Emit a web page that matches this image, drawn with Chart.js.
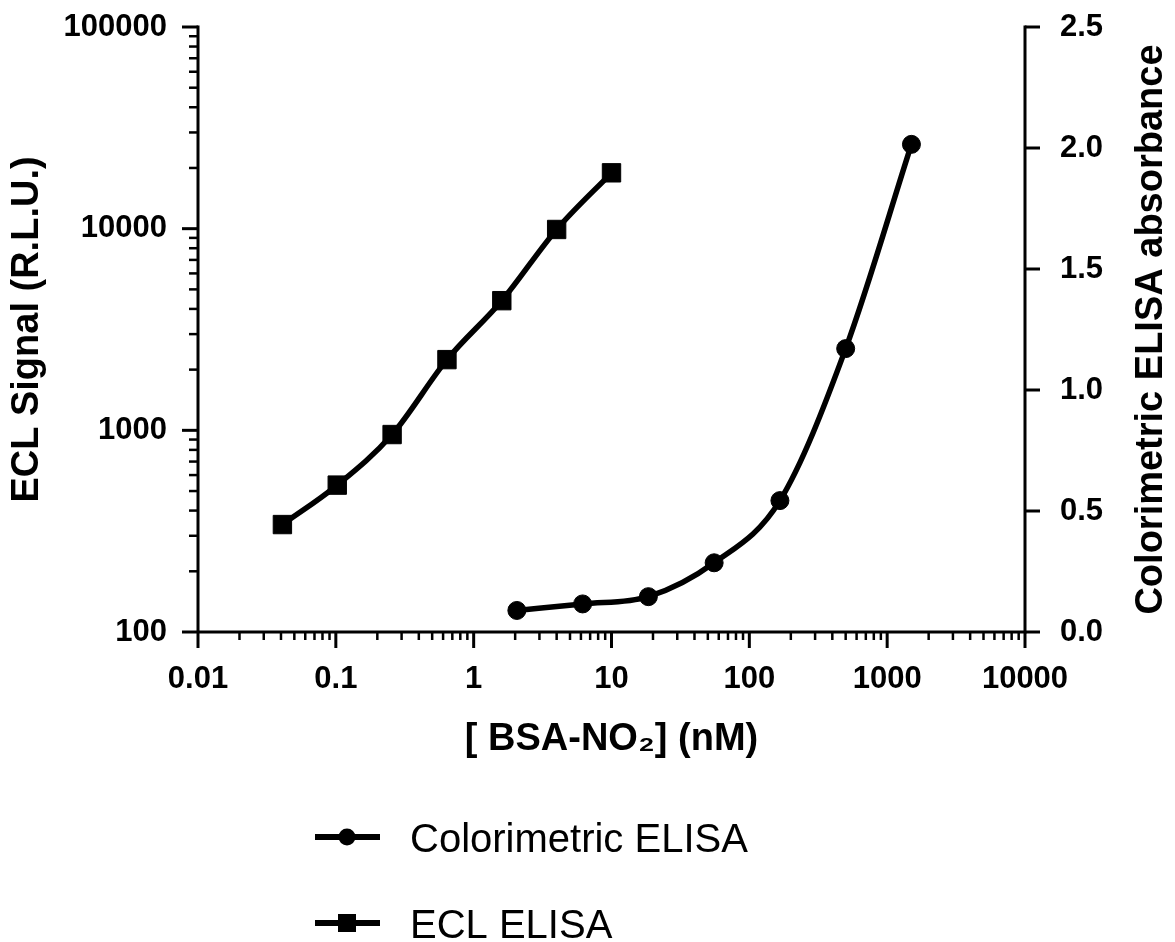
<!DOCTYPE html>
<html>
<head>
<meta charset="utf-8">
<script src="https://cdn.jsdelivr.net/npm/chart.js@4.4.1/dist/chart.umd.min.js"></script>
<style>
html,body{margin:0;padding:0;background:#fff;}
#wrap{position:relative;width:1175px;height:942px;}
</style>
</head>
<body>
<div id="wrap"><canvas id="c" width="1175" height="942"></canvas></div>
<script>
// ---- data ----
const elisaConc = [2.058, 6.173, 18.52, 55.56, 166.7, 500, 1500];
const elisaAbs = [0.089, 0.116, 0.146, 0.286, 0.543, 1.171, 2.015];
const eclConc = [0.04096, 0.1024, 0.256, 0.64, 1.6, 4, 10];
const eclSignal = [341, 535, 953, 2242, 4395, 9908, 18920];
const seriesNames = ['Colorimetric ELISA', 'ECL ELISA'];
const xMajorTicks = [0.01, 0.1, 1, 10, 100, 1000, 10000];
const xTickLabels = ['0.01', '0.1', '1', '10', '100', '1000', '10000'];
const yMajorTicks = [100, 1000, 10000, 100000];
const yTickLabels = ['100', '1000', '10000', '100000'];
const y1Ticks = [0, 0.5, 1, 1.5, 2, 2.5];
const y1TickLabels = ['0.0', '0.5', '1.0', '1.5', '2.0', '2.5'];
const minorSteps = [2, 3, 4, 5, 6, 7, 8, 9];
const xTitle = '[ BSA-NO\u2082] (nM)';
const yTitle = 'ECL Signal (R.L.U.)';
const y1Title = 'Colorimetric ELISA absorbance';

const FONT = '"Liberation Sans", Arial, Helvetica, sans-serif';

function withMinors(majors) {
  const out = [];
  majors.forEach((m, i) => {
    out.push({ value: m, major: true });
    if (i < majors.length - 1) minorSteps.forEach(s => out.push({ value: m * s, major: false }));
  });
  return out;
}
function labelFrom(values, labels) {
  return function (value) {
    const i = values.findIndex(m => Math.abs(m - value) <= Math.abs(m) * 1e-9 + 1e-12);
    return i >= 0 ? labels[i] : '';
  };
}

const plotLeft = 198, plotRight = 1025, plotTop = 27, plotBottom = 632;

const axesPlugin = {
  id: 'axesPlugin',
  beforeDatasetsDraw(chart) {
    const { ctx, chartArea: a, scales } = chart;
    ctx.save();
    ctx.strokeStyle = '#000';
    ctx.lineWidth = 3;
    ctx.beginPath();
    ctx.moveTo(a.left, a.top - 1.5); ctx.lineTo(a.left, a.bottom);
    ctx.moveTo(a.left, a.bottom); ctx.lineTo(a.right, a.bottom);
    ctx.moveTo(a.right, a.top - 1.5); ctx.lineTo(a.right, a.bottom + 1.5);
    ctx.stroke();
    scales.x.ticks.forEach(t => {
      const p = scales.x.getPixelForValue(t.value);
      const len = t.major ? 16 : 8;
      ctx.lineWidth = t.major ? 3 : 2.5;
      ctx.beginPath(); ctx.moveTo(p, a.bottom); ctx.lineTo(p, a.bottom + len); ctx.stroke();
    });
    scales.y.ticks.forEach(t => {
      const p = scales.y.getPixelForValue(t.value);
      const len = t.major ? 16 : 9;
      ctx.lineWidth = t.major ? 3 : 2.5;
      ctx.beginPath(); ctx.moveTo(a.left - len, p); ctx.lineTo(a.left, p); ctx.stroke();
    });
    scales.y1.ticks.forEach(t => {
      const p = scales.y1.getPixelForValue(t.value);
      ctx.lineWidth = 3;
      ctx.beginPath(); ctx.moveTo(a.right, p); ctx.lineTo(a.right + 15, p); ctx.stroke();
    });
    ctx.restore();
  },
  afterDraw(chart) {
    const { ctx, chartArea: a } = chart;
    ctx.save();
    ctx.fillStyle = '#000';
    ctx.font = 'bold 38px ' + FONT;
    ctx.textAlign = 'center';
    ctx.textBaseline = 'middle';
    ctx.translate(1152, (a.top + a.bottom) / 2);
    ctx.rotate(-Math.PI / 2);
    ctx.fillText(y1Title, 0, 0);
    ctx.restore();

    ctx.save();
    const rows = [837, 923];
    const ds = chart.data.datasets;
    rows.forEach((y, i) => {
      ctx.strokeStyle = '#000';
      ctx.fillStyle = '#000';
      ctx.lineWidth = 6;
      ctx.beginPath(); ctx.moveTo(315, y); ctx.lineTo(380, y); ctx.stroke();
      if (ds[i].pointStyle === 'circle') {
        ctx.beginPath(); ctx.arc(347, y, 8.5, 0, Math.PI * 2); ctx.fill();
      } else {
        ctx.fillRect(347 - 9, y - 9, 18, 18);
      }
      ctx.font = '40px ' + FONT;
      ctx.textAlign = 'left';
      ctx.textBaseline = 'alphabetic';
      ctx.fillText(ds[i].label, 410, y + 14.5);
    });
    ctx.restore();
  }
};

const tickFont = { family: FONT, size: 31, weight: 'bold' };
const titleFont = { family: FONT, size: 38, weight: 'bold' };

function noVPad(s) { s.paddingTop = 0; s.paddingBottom = 0; }

new Chart(document.getElementById('c'), {
  type: 'scatter',
  data: {
    datasets: [
      {
        label: seriesNames[0],
        data: elisaConc.map((x, i) => ({ x, y: elisaAbs[i] })),
        yAxisID: 'y1',
        showLine: true,
        cubicInterpolationMode: 'monotone',
        borderColor: '#000',
        borderWidth: 5.5,
        backgroundColor: '#000',
        pointStyle: 'circle',
        pointRadius: 9,
        pointHoverRadius: 9,
        pointBackgroundColor: '#000',
        pointBorderColor: '#000',
        pointBorderWidth: 1,
        clip: false
      },
      {
        label: seriesNames[1],
        data: eclConc.map((x, i) => ({ x, y: eclSignal[i] })),
        yAxisID: 'y',
        showLine: true,
        cubicInterpolationMode: 'monotone',
        borderColor: '#000',
        borderWidth: 5.5,
        backgroundColor: '#000',
        pointStyle: 'rect',
        pointRadius: 13,
        pointHoverRadius: 13,
        pointBackgroundColor: '#000',
        pointBorderColor: '#000',
        pointBorderWidth: 1,
        clip: false
      }
    ]
  },
  options: {
    responsive: false,
    animation: false,
    devicePixelRatio: 1,
    layout: { padding: { top: plotTop, left: 0, right: 0, bottom: 0 } },
    plugins: { legend: { display: false }, tooltip: { enabled: false } },
    scales: {
      x: {
        type: 'logarithmic',
        position: 'bottom',
        min: 0.01, max: 10000,
        afterBuildTicks: s => { s.ticks = withMinors(xMajorTicks); },
        afterFit: s => { s.height = 942 - plotBottom; s.paddingLeft = 0; s.paddingRight = 0; },
        grid: { display: false },
        border: { display: false },
        ticks: {
          autoSkip: false, maxRotation: 0, minRotation: 0,
          padding: 21, color: '#000', font: tickFont,
          callback: labelFrom(xMajorTicks, xTickLabels)
        },
        title: {
          display: true, text: xTitle, color: '#000', font: titleFont,
          padding: { top: 0, bottom: 942 - 740 - 22.8 }
        }
      },
      y: {
        type: 'logarithmic',
        position: 'left',
        min: 100, max: 100000,
        afterBuildTicks: s => { s.ticks = withMinors(yMajorTicks); },
        afterFit: s => { s.width = plotLeft; noVPad(s); },
        grid: { display: false },
        border: { display: false },
        ticks: {
          autoSkip: false, padding: 23, color: '#000', font: tickFont,
          callback: labelFrom(yMajorTicks, yTickLabels)
        },
        title: {
          display: true, text: yTitle, color: '#000', font: titleFont,
          padding: { top: 5, bottom: 0 }
        }
      },
      y1: {
        type: 'linear',
        position: 'right',
        min: 0, max: 2.5,
        afterBuildTicks: s => { s.ticks = y1Ticks.map(v => ({ value: v })); },
        afterFit: s => { s.width = 1175 - plotRight; noVPad(s); },
        grid: { display: false },
        border: { display: false },
        ticks: {
          autoSkip: false, padding: 27, color: '#000', font: tickFont,
          callback: labelFrom(y1Ticks, y1TickLabels)
        },
        title: { display: false }
      }
    }
  },
  plugins: [axesPlugin]
});
</script>
</body>
</html>
